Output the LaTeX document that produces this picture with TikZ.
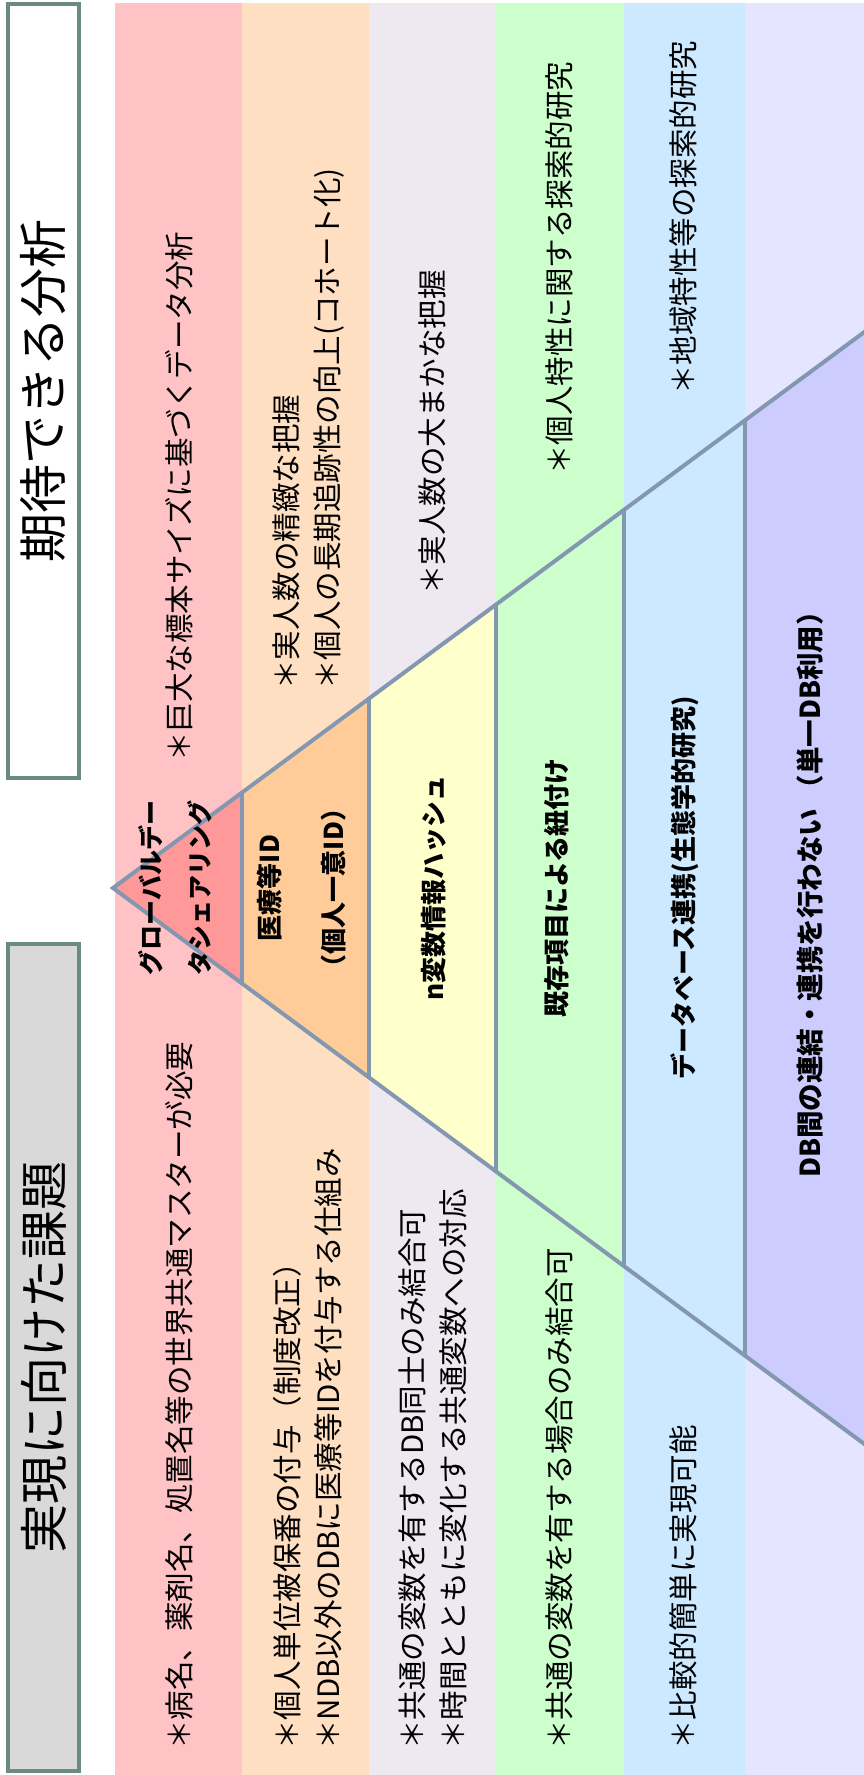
\documentclass[tikz,border=0pt]{standalone}
\usepackage{fontspec}
\setmainfont{Noto Sans CJK JP}
\definecolor{bA}{HTML}{FFC3C6}
\definecolor{bB}{HTML}{FFDFC2}
\definecolor{bC}{HTML}{EEE9F1}
\definecolor{bD}{HTML}{CCFFCC}
\definecolor{bE}{HTML}{CCE9FF}
\definecolor{bF}{HTML}{E5E5FF}
\definecolor{tA}{HTML}{FF9999}
\definecolor{tB}{HTML}{FFCC99}
\definecolor{tC}{HTML}{FFFFCC}
\definecolor{tD}{HTML}{CCFFCC}
\definecolor{tE}{HTML}{CCE9FF}
\definecolor{tF}{HTML}{CCCCFF}
\definecolor{linec}{HTML}{8497B0}
\definecolor{boxc}{HTML}{6A8C80}
\definecolor{boxfill}{HTML}{D9D9D9}
\tikzset{
  pyrline/.style={draw=linec, line width=4pt},
  titlebox/.style={draw=boxc, line width=4pt, rotate=90, inner sep=0pt, font=\fontsize{49}{55}\selectfont},
  body/.style={rotate=90, inner sep=0pt, anchor=west, align=left, font=\fontsize{29.5}{41}\selectfont},
  pyr/.style={rotate=90, inner sep=0pt, anchor=center, align=center, font=\bfseries\fontsize{26}{32}\selectfont}
}
\begin{document}
\begin{tikzpicture}[x=1pt,y=-1pt]
\clip (0,0) rectangle (864,1775);
\fill[white] (0,0) rectangle (864,1775);
% bands
\fill[bA] (115,3) rectangle (242,1780);
\fill[bB] (242,3) rectangle (369,1780);
\fill[bC] (369,3) rectangle (496,1780);
\fill[bD] (496,3) rectangle (624,1780);
\fill[bE] (624,3) rectangle (745,1780);
\fill[bF] (745,3) rectangle (870,1780);
% pyramid coordinates
\coordinate (A) at (113,888);
\coordinate (U1) at (242,792.5);  \coordinate (L1) at (242,983.5);
\coordinate (U2) at (369,698.6);  \coordinate (L2) at (369,1077.4);
\coordinate (U3) at (496,604.6);  \coordinate (L3) at (496,1171.4);
\coordinate (U4) at (624,509.9);  \coordinate (L4) at (624,1266.1);
\coordinate (U5) at (745,420.3);  \coordinate (L5) at (745,1355.7);
\coordinate (U6) at (900,305.6);  \coordinate (L6) at (900,1470.4);
\fill[tA] (A) -- (U1) -- (L1) -- cycle;
\fill[tB] (U1) -- (U2) -- (L2) -- (L1) -- cycle;
\fill[tC] (U2) -- (U3) -- (L3) -- (L2) -- cycle;
\fill[tD] (U3) -- (U4) -- (L4) -- (L3) -- cycle;
\fill[tE] (U4) -- (U5) -- (L5) -- (L4) -- cycle;
\fill[tF] (U5) -- (U6) -- (L6) -- (L5) -- cycle;
\draw[pyrline] (U1) -- (L1);
\draw[pyrline] (U2) -- (L2);
\draw[pyrline] (U3) -- (L3);
\draw[pyrline] (U4) -- (L4);
\draw[pyrline] (U5) -- (L5);
\draw[pyrline, line join=miter] (U6) -- (A) -- (L6);
% title boxes
\node[titlebox, fill=white, minimum width=774pt, minimum height=71pt] (t1) at (43.5,391) {期待できる分析};
\node[titlebox, fill=boxfill, minimum width=827pt, minimum height=71pt] (t2) at (43.5,1357.5) {実現に向けた課題};
% expected analyses (top)
\node[body] (n1t) at (179,762) {＊巨大な標本サイズに基づくデータ分析};
\node[body] (n2t) at (308,690) {＊実人数の精緻な把握\\＊個人の長期追跡性の向上(コホート化)};
\node[body] (n3t) at (432,595) {＊実人数の大まかな把握};
\node[body] (n4t) at (559,475) {＊個人特性に関する探索的研究};
\node[body] (n5t) at (683,395) {＊地域特性等の探索的研究};
% challenges (bottom)
\node[body] (n1b) at (179,1750) {＊病名、薬剤名、処置名等の世界共通マスターが必要};
\node[body] (n2b) at (308,1750) {＊個人単位被保番の付与（制度改正）\\＊NDB以外のDBに医療等IDを付与する仕組み};
\node[body] (n3b) at (433,1750) {＊共通の変数を有するDB同士のみ結合可\\＊時間とともに変化する共通変数への対応};
\node[body] (n4b) at (559,1750) {＊共通の変数を有する場合のみ結合可};
\node[body] (n5b) at (683,1750) {＊比較的簡単に実現可能};
% pyramid labels
\node[pyr, font=\bfseries\fontsize{25}{49}\selectfont] (p1) at (175,888) {グローバルデー\\タシェアリング};
\node[pyr, font=\bfseries\fontsize{26}{64}\selectfont] (p2) at (302,888) {医療等ID\\（個人一意ID）};
\node[pyr] (p3) at (434,888) {n変数情報ハッシュ};
\node[pyr] (p4) at (557,888) {既存項目による紐付け};
\node[pyr] (p5) at (685,888) {データベース連携(生態学的研究)};
\node[pyr, font=\bfseries\fontsize{27.5}{32}\selectfont] (p6) at (810,888) {DB間の連結・連携を行わない （単一DB利用）};
\end{tikzpicture}
\end{document}
